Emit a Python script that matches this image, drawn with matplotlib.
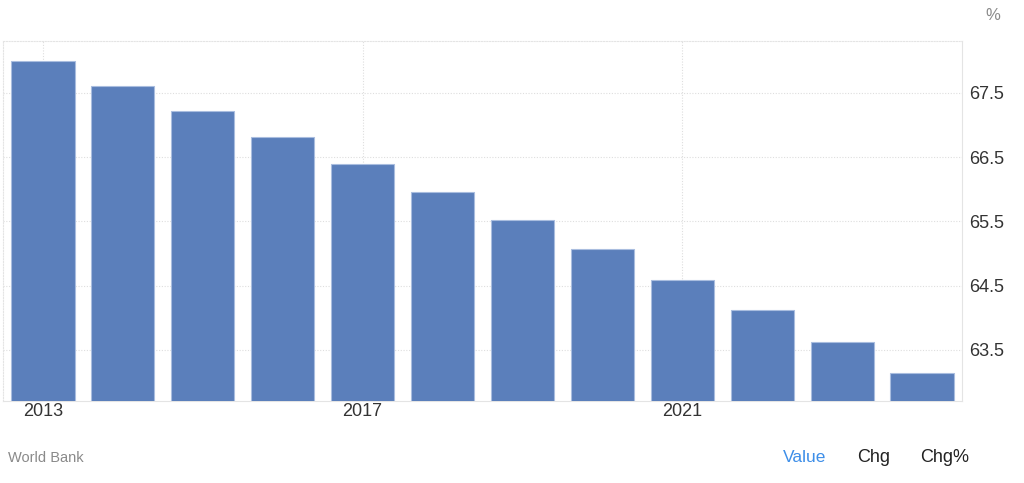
import matplotlib
matplotlib.use("Agg")
import matplotlib.pyplot as plt

# ======================
# data
# ======================
years = [2013, 2014, 2015, 2016, 2017, 2018, 2019, 2020, 2021, 2022, 2023, 2024]
values = [67.99, 67.61, 67.21, 66.81, 66.39, 65.96, 65.52, 65.07, 64.59, 64.12, 63.62, 63.14]
y_ticks = [63.5, 64.5, 65.5, 66.5, 67.5]
x_label_years = [2013, 2017, 2021]

BAR_COLOR = "#5b7fbb"
GRID_COLOR = "#dedede"

plt.rcParams["font.family"] = ["Liberation Sans", "DejaVu Sans"]

fig = plt.figure(figsize=(10.24, 4.83), dpi=100)
ax = fig.add_axes([3 / 1024, 1 - 400.7 / 483, 959 / 1024, 360 / 483])

x = list(range(len(years)))
ax.bar(x, values, width=0.79, bottom=0, color=BAR_COLOR,
       edgecolor="#a9bddf", linewidth=0.8, zorder=3)

ax.set_xlim(-0.5, len(years) - 0.5)
ax.set_ylim(62.71, 68.31)

# y axis on the right
ax.yaxis.tick_right()
ax.set_yticks(y_ticks)
ax.set_yticklabels([f"{v:.1f}" for v in y_ticks])
ax.tick_params(axis="y", length=0, pad=5, labelsize=13, labelcolor="#333333")

# x ticks only every 4 years
ax.set_xticks([years.index(y) for y in x_label_years])
ax.set_xticklabels([str(y) for y in x_label_years])
ax.tick_params(axis="x", length=0, pad=2, labelsize=13, labelcolor="#333333")

ax.grid(True, color=GRID_COLOR, linestyle=(0, (1, 1.5)), linewidth=0.8, zorder=0)
ax.set_axisbelow(True)

for side in ["top", "left", "right", "bottom"]:
    ax.spines[side].set_color("#e4e4e4")
    ax.spines[side].set_linewidth(0.8)
ax.spines["top"].set_linestyle((0, (1, 1.5)))
ax.spines["left"].set_linestyle((0, (1, 1.5)))

# text around the chart
fig.text(993 / 1024, 1 - 15 / 483, "%", ha="center", va="center", fontsize=12, color="#8a8a8a")
fig.text(8 / 1024, 1 - 458 / 483, "World Bank", ha="left", va="center", fontsize=10.5, color="#8a8a8a")
fig.text(804.5 / 1024, 1 - 458 / 483, "Value", ha="center", va="center", fontsize=12.5, color="#3d8ee8")
fig.text(874 / 1024, 1 - 458 / 483, "Chg", ha="center", va="center", fontsize=13, color="#222222")
fig.text(944.5 / 1024, 1 - 458 / 483, "Chg%", ha="center", va="center", fontsize=13, color="#222222")

fig.savefig("out.png", dpi=100)
